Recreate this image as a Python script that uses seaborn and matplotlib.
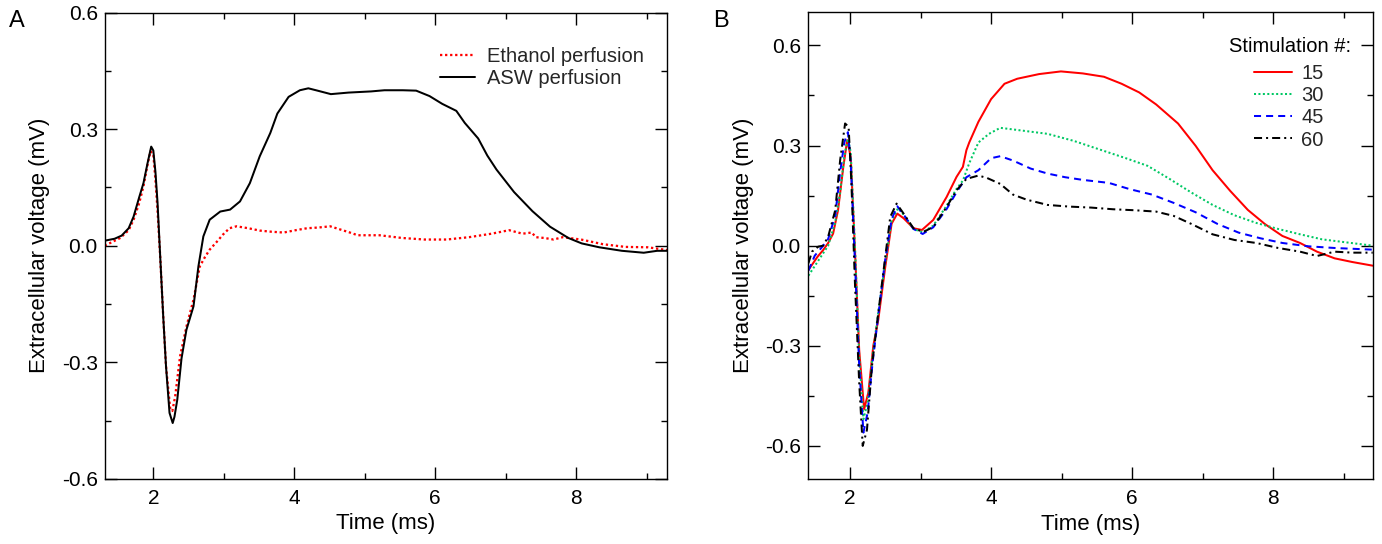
import numpy as np
import pandas as pd
import matplotlib
matplotlib.use("Agg")
import matplotlib.pyplot as plt
from matplotlib.ticker import FixedLocator, MultipleLocator, FormatStrFormatter
import seaborn as sns

# ---------------- data: panel A ----------------
t_asw = [1.31, 1.45, 1.55, 1.65, 1.72, 1.80, 1.86, 1.92, 1.97, 2.00, 2.03, 2.06, 2.10, 2.14,
         2.18, 2.23, 2.275, 2.30, 2.34, 2.40, 2.47, 2.57, 2.64, 2.71, 2.80, 2.95, 3.09, 3.23,
         3.37, 3.51, 3.66, 3.76, 3.92, 4.08, 4.20, 4.33, 4.52, 4.77, 5.09, 5.28, 5.54, 5.73,
         5.92, 6.10, 6.30, 6.42, 6.61, 6.74, 6.87, 7.12, 7.38, 7.63, 7.89, 8.08, 8.33, 8.65,
         8.96, 9.15, 9.29]
v_asw = [0.013, 0.018, 0.026, 0.045, 0.075, 0.125, 0.161, 0.214, 0.255, 0.245, 0.19, 0.11,
         -0.036, -0.18, -0.31, -0.43, -0.456, -0.44, -0.396, -0.29, -0.216, -0.156, -0.053,
         0.024, 0.067, 0.088, 0.093, 0.114, 0.161, 0.23, 0.29, 0.34, 0.383, 0.40, 0.405, 0.399,
         0.39, 0.394, 0.397, 0.40, 0.40, 0.399, 0.385, 0.365, 0.347, 0.316, 0.276, 0.232, 0.196,
         0.138, 0.089, 0.049, 0.02, 0.006, -0.004, -0.013, -0.018, -0.013, -0.013]

t_eth = [1.31, 1.53, 1.65, 1.72, 1.80, 1.86, 1.92, 1.96, 2.00, 2.03, 2.06, 2.10, 2.14, 2.18,
         2.24, 2.27, 2.31, 2.38, 2.47, 2.57, 2.66, 2.73, 2.80, 2.90, 2.99, 3.08, 3.18, 3.35,
         3.51, 3.68, 3.85, 4.02, 4.18, 4.35, 4.51, 4.65, 4.79, 4.90, 5.21, 5.53, 5.85, 6.16,
         6.48, 6.80, 7.05, 7.24, 7.37, 7.43, 7.55, 7.68, 7.81, 8.07, 8.38, 8.70, 9.02, 9.29]
v_eth = [0.0, 0.02, 0.04, 0.067, 0.11, 0.153, 0.21, 0.243, 0.235, 0.17, 0.09, -0.036, -0.18,
         -0.31, -0.42, -0.425, -0.388, -0.284, -0.208, -0.139, -0.053, -0.03, -0.01, 0.01,
         0.029, 0.045, 0.05, 0.045, 0.039, 0.036, 0.034, 0.04, 0.045, 0.047, 0.05, 0.042,
         0.034, 0.027, 0.027, 0.02, 0.016, 0.016, 0.022, 0.031, 0.04, 0.031, 0.034, 0.022,
         0.02, 0.016, 0.022, 0.016, 0.004, -0.003, -0.004, -0.011]

# ---------------- data: panel B ----------------
t_s15 = [1.41, 1.54, 1.62, 1.69, 1.76, 1.83, 1.905, 1.96, 2.01, 2.07, 2.13, 2.20, 2.26, 2.33,
         2.40, 2.50, 2.59, 2.67, 2.76, 2.90, 3.02, 3.18, 3.37, 3.51, 3.60, 3.65, 3.69, 3.82,
         4.00, 4.19, 4.37, 4.68, 4.99, 5.30, 5.60, 5.85, 6.10, 6.34, 6.65, 6.90, 7.14, 7.39,
         7.64, 7.88, 8.13, 8.38, 8.62, 8.87, 9.12, 9.41]
v_s15 = [-0.073, -0.033, -0.013, 0.008, 0.036, 0.106, 0.236, 0.316, 0.266, -0.013, -0.313,
         -0.49, -0.44, -0.30, -0.223, -0.063, 0.066, 0.096, 0.082, 0.052, 0.047, 0.077, 0.146,
         0.206, 0.236, 0.286, 0.309, 0.371, 0.439, 0.485, 0.50, 0.514, 0.522, 0.516, 0.506,
         0.485, 0.459, 0.423, 0.366, 0.299, 0.226, 0.164, 0.107, 0.065, 0.029, 0.008, -0.018,
         -0.038, -0.049, -0.06]

t_s30 = [1.41, 1.55, 1.69, 1.79, 1.86, 1.92, 1.97, 2.01, 2.07, 2.13, 2.19, 2.25, 2.32, 2.40,
         2.50, 2.59, 2.68, 2.77, 2.90, 3.03, 3.18, 3.37, 3.51, 3.60, 3.69, 3.82, 3.97, 4.13,
         4.43, 4.80, 5.17, 5.54, 5.91, 6.22, 6.53, 6.84, 7.14, 7.45, 7.76, 8.07, 8.38, 8.69,
         8.99, 9.41]
v_s30 = [-0.09, -0.045, 0.0, 0.07, 0.16, 0.27, 0.32, 0.28, 0.0, -0.33, -0.52, -0.47, -0.33,
         -0.20, -0.05, 0.075, 0.112, 0.09, 0.05, 0.04, 0.06, 0.12, 0.17, 0.195, 0.247, 0.309,
         0.335, 0.353, 0.345, 0.335, 0.314, 0.288, 0.262, 0.239, 0.20, 0.159, 0.122, 0.091,
         0.068, 0.05, 0.034, 0.019, 0.011, 0.0]

t_s45 = [1.41, 1.50, 1.60, 1.69, 1.79, 1.86, 1.92, 1.97, 2.01, 2.07, 2.13, 2.19, 2.25, 2.32,
         2.40, 2.50, 2.59, 2.67, 2.77, 2.90, 3.03, 3.18, 3.37, 3.51, 3.65, 3.82, 4.00, 4.13,
         4.31, 4.56, 4.80, 5.05, 5.30, 5.67, 5.97, 6.28, 6.59, 6.90, 7.21, 7.51, 7.82, 8.13,
         8.50, 8.87, 9.41]
v_s45 = [-0.075, -0.03, -0.005, 0.02, 0.09, 0.22, 0.31, 0.34, 0.25, -0.05, -0.36, -0.56,
         -0.50, -0.35, -0.21, -0.04, 0.08, 0.118, 0.09, 0.05, 0.035, 0.055, 0.11, 0.16, 0.205,
         0.226, 0.262, 0.268, 0.255, 0.231, 0.216, 0.205, 0.197, 0.188, 0.169, 0.153, 0.128,
         0.10, 0.065, 0.039, 0.022, 0.008, -0.002, -0.007, -0.012]

t_s60 = [1.41, 1.46, 1.55, 1.62, 1.69, 1.79, 1.86, 1.93, 1.98, 2.02, 2.07, 2.13, 2.18, 2.24,
         2.31, 2.40, 2.50, 2.57, 2.66, 2.76, 2.90, 3.04, 3.18, 3.37, 3.51, 3.65, 3.82, 3.94,
         4.13, 4.31, 4.50, 4.80, 5.11, 5.42, 5.73, 6.04, 6.34, 6.59, 6.84, 7.14, 7.45, 7.76,
         8.07, 8.38, 8.62, 8.87, 9.12, 9.41]
v_s60 = [-0.053, -0.018, -0.003, 0.0, 0.027, 0.106, 0.256, 0.366, 0.356, 0.186, -0.113, -0.41,
         -0.60, -0.552, -0.363, -0.203, -0.033, 0.086, 0.126, 0.096, 0.052, 0.041, 0.056,
         0.116, 0.166, 0.20, 0.21, 0.203, 0.185, 0.153, 0.138, 0.122, 0.117, 0.114, 0.109,
         0.106, 0.102, 0.089, 0.065, 0.034, 0.017, 0.008, -0.007, -0.018, -0.031, -0.018,
         -0.021, -0.021]

y_ticks = [-0.6, -0.3, 0.0, 0.3, 0.6]
x_ticks = [2, 4, 6, 8]
legend_title_B = 'Stimulation #:'

# ---------------- style ----------------
sns.set_theme(style="ticks")
plt.rcParams['font.family'] = ['Liberation Sans', 'DejaVu Sans']
plt.rcParams['axes.unicode_minus'] = False

fig = plt.figure(figsize=(13.82, 5.44), dpi=100)
axA = fig.add_axes([104.7 / 1382, 1 - 479 / 544, (667 - 104.7) / 1382, (479 - 12.5) / 544])
axB = fig.add_axes([807.7 / 1382, 1 - 479.3 / 544, (1372.7 - 807.7) / 1382, (479.3 - 12) / 544])

LW = 1.45
sns.lineplot(x=t_eth, y=v_eth, ax=axA, color='#ff0000', linestyle=(0, (1, 1.2)), lw=LW + 0.2,
             sort=False, estimator=None, label='Ethanol perfusion')
sns.lineplot(x=t_asw, y=v_asw, ax=axA, color='black', linestyle='-', lw=LW,
             sort=False, estimator=None, label='ASW perfusion')

sns.lineplot(x=t_s15, y=v_s15, ax=axB, color='#ff0000', linestyle='-', lw=LW,
             sort=False, estimator=None, label='15')
sns.lineplot(x=t_s30, y=v_s30, ax=axB, color='#00c864', linestyle=(0, (1, 1.2)), lw=LW,
             sort=False, estimator=None, label='30')
sns.lineplot(x=t_s45, y=v_s45, ax=axB, color='#0000ff', linestyle=(0, (3.5, 2.5)), lw=LW,
             sort=False, estimator=None, label='45')
sns.lineplot(x=t_s60, y=v_s60, ax=axB, color='black', linestyle=(0, (4, 2, 1, 2)), lw=LW,
             sort=False, estimator=None, label='60')

for ax, xl, yl in [(axA, (1.31, 9.29), (-0.6, 0.6)), (axB, (1.40, 9.41), (-0.70, 0.70))]:
    ax.set_xlim(*xl)
    ax.set_ylim(*yl)
    ax.xaxis.set_major_locator(FixedLocator(x_ticks))
    ax.xaxis.set_minor_locator(MultipleLocator(1))
    ax.yaxis.set_major_locator(FixedLocator(y_ticks))
    ax.yaxis.set_minor_locator(MultipleLocator(0.15))
    ax.yaxis.set_major_formatter(FormatStrFormatter('%.1f'))
    ax.tick_params(which='both', direction='in', top=True, right=True, color='black',
                   width=1.0)
    ax.tick_params(which='major', length=8.5, labelsize=15, labelcolor='black')
    ax.tick_params(axis='x', which='major', pad=7)
    ax.tick_params(axis='y', which='major', pad=5)
    ax.tick_params(which='minor', length=4)
    for s in ax.spines.values():
        s.set_color('black')
        s.set_linewidth(1.0)
    ax.set_xlabel('Time (ms)', fontsize=16, color='black')
    ax.set_ylabel('Extracellular voltage (mV)', fontsize=16, color='black')
    ax.xaxis.set_label_coords(0.5, -(524 - 479) / 466.5)
    ax.xaxis.label.set_va('center')
    ax.yaxis.label.set_va('center')

axA.yaxis.set_label_coords((40 - 104.7) / 562.3, 0.5)
axB.yaxis.set_label_coords((743.5 - 807.7) / 565, 0.5)

legA = axA.legend(loc='upper left', bbox_to_anchor=(0.596, 0.926), frameon=False,
                  fontsize=14.5, handlelength=1.75, handletextpad=0.6, labelspacing=0.15,
                  borderpad=0, borderaxespad=0)
legB = axB.legend(loc='upper left', bbox_to_anchor=(0.790, 0.889), frameon=False,
                  fontsize=14.5, handlelength=1.9, handletextpad=0.45, labelspacing=0.16,
                  borderpad=0, borderaxespad=0)
axB.text((1290 - 807.7) / 565, 1 - (47 - 12) / 467.3, legend_title_B, transform=axB.transAxes,
         fontsize=14.5, ha='center', va='center', color='black')

fig.text(9 / 1382, 1 - 21 / 544, 'A', fontsize=17, va='center', ha='left', color='black')
fig.text(713 / 1382, 1 - 21 / 544, 'B', fontsize=17, va='center', ha='left', color='black')

fig.savefig('out.png', dpi=100)
